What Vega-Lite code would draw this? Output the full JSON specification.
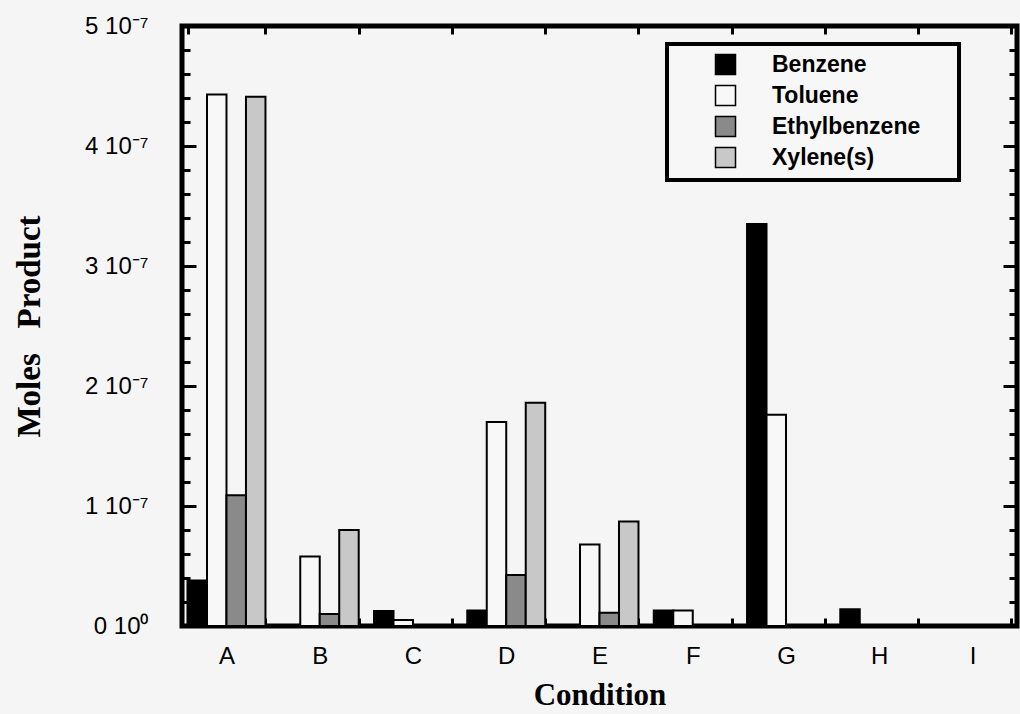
{
  "$schema": "https://vega.github.io/schema/vega-lite/v6.json",
  "width": 835,
  "height": 600,
  "autosize": {"type": "none"},
  "padding": {"left": 182, "top": 26, "right": 3, "bottom": 88},
  "background": "#f5f5f5",
  "config": {
    "view": {"stroke": "black", "strokeWidth": 5, "fill": "#f5f5f5"},
    "axis": {"domain": false, "grid": false, "tickColor": "black", "tickWidth": 3, "labelColor": "black", "titleColor": "black"}
  },
  "data": {
    "values": [
      {"condition": "A", "compound": "Benzene", "value": 3.8e-8},
      {"condition": "A", "compound": "Toluene", "value": 4.43e-7},
      {"condition": "A", "compound": "Ethylbenzene", "value": 1.09e-7},
      {"condition": "A", "compound": "Xylene(s)", "value": 4.41e-7},
      {"condition": "B", "compound": "Benzene", "value": 0},
      {"condition": "B", "compound": "Toluene", "value": 5.8e-8},
      {"condition": "B", "compound": "Ethylbenzene", "value": 1.0e-8},
      {"condition": "B", "compound": "Xylene(s)", "value": 8.0e-8},
      {"condition": "C", "compound": "Benzene", "value": 1.25e-8},
      {"condition": "C", "compound": "Toluene", "value": 5e-9},
      {"condition": "C", "compound": "Ethylbenzene", "value": 0},
      {"condition": "C", "compound": "Xylene(s)", "value": 0},
      {"condition": "D", "compound": "Benzene", "value": 1.3e-8},
      {"condition": "D", "compound": "Toluene", "value": 1.70e-7},
      {"condition": "D", "compound": "Ethylbenzene", "value": 4.25e-8},
      {"condition": "D", "compound": "Xylene(s)", "value": 1.86e-7},
      {"condition": "E", "compound": "Benzene", "value": 0},
      {"condition": "E", "compound": "Toluene", "value": 6.8e-8},
      {"condition": "E", "compound": "Ethylbenzene", "value": 1.1e-8},
      {"condition": "E", "compound": "Xylene(s)", "value": 8.7e-8},
      {"condition": "F", "compound": "Benzene", "value": 1.3e-8},
      {"condition": "F", "compound": "Toluene", "value": 1.3e-8},
      {"condition": "F", "compound": "Ethylbenzene", "value": 0},
      {"condition": "F", "compound": "Xylene(s)", "value": 0},
      {"condition": "G", "compound": "Benzene", "value": 3.35e-7},
      {"condition": "G", "compound": "Toluene", "value": 1.76e-7},
      {"condition": "G", "compound": "Ethylbenzene", "value": 0},
      {"condition": "G", "compound": "Xylene(s)", "value": 0},
      {"condition": "H", "compound": "Benzene", "value": 1.4e-8},
      {"condition": "H", "compound": "Toluene", "value": 0},
      {"condition": "H", "compound": "Ethylbenzene", "value": 0},
      {"condition": "H", "compound": "Xylene(s)", "value": 0},
      {"condition": "I", "compound": "Benzene", "value": 0},
      {"condition": "I", "compound": "Toluene", "value": 0},
      {"condition": "I", "compound": "Ethylbenzene", "value": 0},
      {"condition": "I", "compound": "Xylene(s)", "value": 0}
    ]
  },
  "layer": [
    {
      "mark": {"type": "bar", "stroke": "black", "strokeWidth": 2},
      "encoding": {
        "x": {
          "field": "condition", "type": "nominal", "title": "Condition",
          "scale": {"paddingInner": 0.164, "paddingOuter": 0.059},
          "axis": {
            "orient": "bottom", "labelAngle": 0, "tickBand": "extent", "tickSize": -8,
            "labelFont": "Liberation Sans", "labelFontSize": 24, "labelPadding": 26,
            "titleFont": "Liberation Serif", "titleFontWeight": "bold", "titleFontSize": 31, "titlePadding": 12
          }
        },
        "xOffset": {
          "field": "compound", "type": "nominal",
          "scale": {"domain": ["Benzene", "Toluene", "Ethylbenzene", "Xylene(s)"]}
        },
        "y": {
          "field": "value", "type": "quantitative", "title": "Moles\u00a0\u00a0 Product",
          "scale": {"domain": [0, 5e-7], "nice": false},
          "axis": {
            "orient": "left",
            "values": [0, 2e-8, 4e-8, 6e-8, 8e-8, 1e-7, 1.2e-7, 1.4e-7, 1.6e-7, 1.8e-7, 2e-7, 2.2e-7, 2.4e-7, 2.6e-7, 2.8e-7, 3e-7, 3.2e-7, 3.4e-7, 3.6e-7, 3.8e-7, 4e-7, 4.2e-7, 4.4e-7, 4.6e-7, 4.8e-7, 5e-7],
            "labelExpr": "datum.value < 1e-9 ? '0 10\u2070' : (abs(datum.value * 1e7 - round(datum.value * 1e7)) < 0.01 ? format(round(datum.value * 1e7), 'd') + ' 10\u207b\u2077' : '')",
            "labelOverlap": false, "labelFlush": false,
            "tickSize": {"condition": {"test": "abs(datum.value * 1e7 - round(datum.value * 1e7)) < 0.01", "value": -14}, "value": -8},
            "labelFont": "Liberation Sans", "labelFontSize": 24, "labelPadding": 48,
            "titleFont": "Liberation Serif", "titleFontWeight": "bold", "titleFontSize": 33, "titlePadding": 38
          }
        },
        "fill": {
          "field": "compound", "type": "nominal",
          "scale": {"domain": ["Benzene", "Toluene", "Ethylbenzene", "Xylene(s)"], "range": ["#000000", "#f8f8f8", "#8a8a8a", "#c8c8c8"]},
          "legend": {
            "orient": "none", "legendX": 485, "legendY": 18,
            "title": "\u00a0", "titleOrient": "right", "titleFontSize": 80, "titlePadding": 30,
            "symbolType": "square", "symbolSize": 400, "symbolStrokeColor": "black", "symbolStrokeWidth": 1.5,
            "labelFont": "Liberation Sans", "labelFontWeight": "bold", "labelFontSize": 23, "labelColor": "black",
            "labelOffset": 35, "symbolOffset": 38, "rowPadding": 4, "padding": 9,
            "strokeColor": "black", "fillColor": "#f7f7f7",
            "encode": {"legend": {"update": {"strokeWidth": {"value": 4}}}}
          }
        }
      }
    },
    {
      "mark": {"type": "bar", "opacity": 0},
      "encoding": {
        "x": {
          "field": "condition", "type": "nominal",
          "scale": {"paddingInner": 0.164, "paddingOuter": 0.059},
          "axis": {"orient": "top", "labels": false, "title": null, "tickBand": "extent", "tickSize": -8}
        },
        "y": {
          "field": "value", "type": "quantitative",
          "scale": {"domain": [0, 5e-7], "nice": false},
          "axis": {
            "orient": "right", "labels": false, "title": null,
            "values": [0, 2e-8, 4e-8, 6e-8, 8e-8, 1e-7, 1.2e-7, 1.4e-7, 1.6e-7, 1.8e-7, 2e-7, 2.2e-7, 2.4e-7, 2.6e-7, 2.8e-7, 3e-7, 3.2e-7, 3.4e-7, 3.6e-7, 3.8e-7, 4e-7, 4.2e-7, 4.4e-7, 4.6e-7, 4.8e-7, 5e-7],
            "tickSize": {"condition": {"test": "abs(datum.value * 1e7 - round(datum.value * 1e7)) < 0.01", "value": -14}, "value": -8}
          }
        }
      }
    }
  ],
  "resolve": {"axis": {"x": "independent", "y": "independent"}}
}
